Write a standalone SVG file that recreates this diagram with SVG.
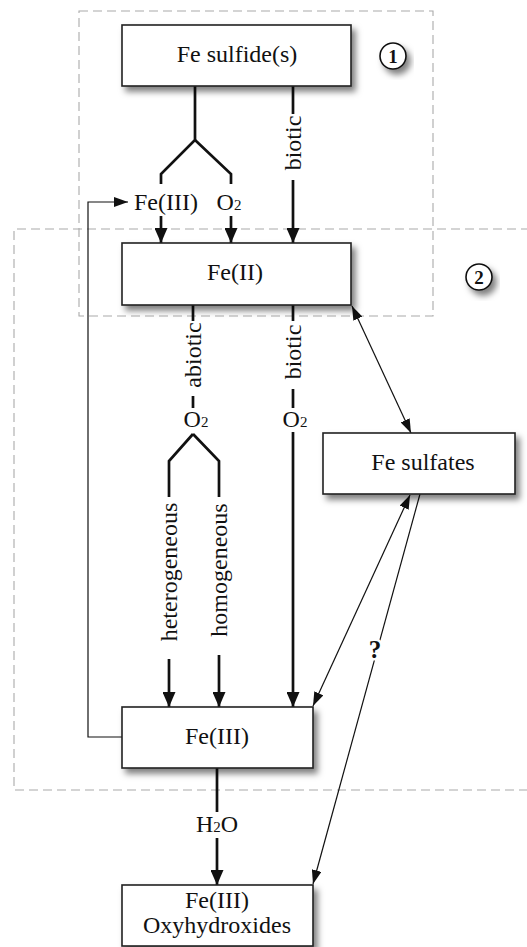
<svg xmlns="http://www.w3.org/2000/svg" width="527" height="947" viewBox="0 0 527 947">
<style>
.box{fill:#fff;stroke:#222;stroke-width:1.6}
.t{font-family:"Liberation Serif","Times New Roman",serif;font-size:24px;fill:#111}
.c{text-anchor:middle}
.r{text-anchor:middle;dominant-baseline:central}
.thick{fill:none;stroke:#111;stroke-width:2.7}
.thin{fill:none;stroke:#111;stroke-width:1.2}
.dash{fill:none;stroke:#aaa;stroke-width:1.1;stroke-dasharray:9 5}
.num{font-family:"Liberation Serif","Times New Roman",serif;font-size:19px;font-weight:bold;text-anchor:middle;fill:#111}
</style>
<defs>
<filter id="sh" x="-20%" y="-20%" width="150%" height="160%">
<feDropShadow dx="4" dy="5" stdDeviation="3" flood-color="#000" flood-opacity="0.5"/>
</filter>
<marker id="ah" markerUnits="userSpaceOnUse" markerWidth="15" markerHeight="13" refX="15" refY="6.5" orient="auto-start-reverse">
<path d="M0,0 L15,6.5 L0,13 z" fill="#111"/>
</marker>
<marker id="at" markerUnits="userSpaceOnUse" markerWidth="14" markerHeight="10" refX="14" refY="5" orient="auto-start-reverse">
<path d="M0,0 L14,5 L0,10 z" fill="#111"/>
</marker>
</defs>

<g id="regions">
<rect class="dash" x="79" y="11" width="354" height="305"/>
<path class="dash" d="M530,229 H14 V790 H530"/>
</g>

<g id="connectors">
<path class="thick" d="M195,86 V140 L161,174 V184"/>
<path class="thick" d="M195,140 L231,174 V184"/>
<path class="thick" d="M161,216 V243" marker-end="url(#ah)"/>
<path class="thick" d="M231,216 V243" marker-end="url(#ah)"/>
<path class="thick" d="M293,86 V114"/>
<path class="thick" d="M293,180 V243" marker-end="url(#ah)"/>
<path class="thin" d="M122,737 H88 V202 H128" marker-end="url(#at)"/>
<path class="thick" d="M193,305 V321"/>
<path class="thick" d="M193,396 V408"/>
<path class="thick" d="M193,434 L169,461 V497"/>
<path class="thick" d="M193,434 L219,461 V497"/>
<path class="thick" d="M169,659 V707" marker-end="url(#ah)"/>
<path class="thick" d="M219,655 V707" marker-end="url(#ah)"/>
<path class="thick" d="M293,305 V321"/>
<path class="thick" d="M293,389 V408"/>
<path class="thick" d="M293,432 V707" marker-end="url(#ah)"/>
<path class="thick" d="M217,768 V812"/>
<path class="thick" d="M217,838 V885" marker-end="url(#ah)"/>
<path class="thin" d="M352,306 L411,433" marker-start="url(#at)" marker-end="url(#at)"/>
<path class="thin" d="M410,495 L313,706" marker-start="url(#at)" marker-end="url(#at)"/>
<path class="thin" d="M420,494 L313,884" marker-end="url(#at)"/>
<text x="375" y="658" style="font-family:'Liberation Serif',serif;font-weight:bold;font-size:25px;text-anchor:middle;fill:#111;stroke:#fff;stroke-width:5;paint-order:stroke">?</text>
</g>

<g id="n-sulfides">
<rect class="box" x="122" y="25" width="229" height="61" filter="url(#sh)"/>
<text class="t c" x="237" y="62">Fe sulfide(s)</text>
</g>
<g id="n-c1">
<circle cx="393" cy="56" r="13" fill="#fff" stroke="#111" stroke-width="1.6" filter="url(#sh)"/>
<text class="num" x="393" y="62.5">1</text>
</g>
<g id="n-c2">
<circle cx="479" cy="277" r="13" fill="#fff" stroke="#111" stroke-width="1.6" filter="url(#sh)"/>
<text class="num" x="479" y="283.5">2</text>
</g>
<g id="n-fe2">
<rect class="box" x="122" y="243" width="229" height="62" filter="url(#sh)"/>
<text class="t c" x="235" y="280">Fe(II)</text>
</g>
<g id="n-sulfates">
<rect class="box" x="323" y="433" width="192" height="61" filter="url(#sh)"/>
<text class="t c" x="423" y="470">Fe sulfates</text>
</g>
<g id="n-fe3">
<rect class="box" x="122" y="707" width="191" height="61" filter="url(#sh)"/>
<text class="t c" x="217" y="744">Fe(III)</text>
</g>
<g id="n-oxy">
<rect class="box" x="122" y="885" width="191" height="61" filter="url(#sh)"/>
<text class="t c" x="217" y="908">Fe(III)</text>
<text class="t c" x="217" y="933">Oxyhydroxides</text>
</g>

<g id="labels">
<text class="t c" x="166" y="210">Fe(III)</text>
<text class="t c" x="229" y="210">O<tspan font-size="15">2</tspan></text>
<text class="t r" x="293" y="143" transform="rotate(-90 293 143)">biotic</text>
<text class="t r" x="193" y="355" transform="rotate(-90 193 355)">abiotic</text>
<text class="t r" x="293" y="352" transform="rotate(-90 293 352)">biotic</text>
<text class="t c" x="196" y="427">O<tspan font-size="15">2</tspan></text>
<text class="t c" x="295" y="427">O<tspan font-size="15">2</tspan></text>
<text class="t r" x="169" y="572" transform="rotate(-90 169 572)">heterogeneous</text>
<text class="t r" x="219" y="570" transform="rotate(-90 219 570)">homogeneous</text>
<text class="t c" x="217" y="832">H<tspan font-size="15">2</tspan>O</text>
</g>
</svg>
